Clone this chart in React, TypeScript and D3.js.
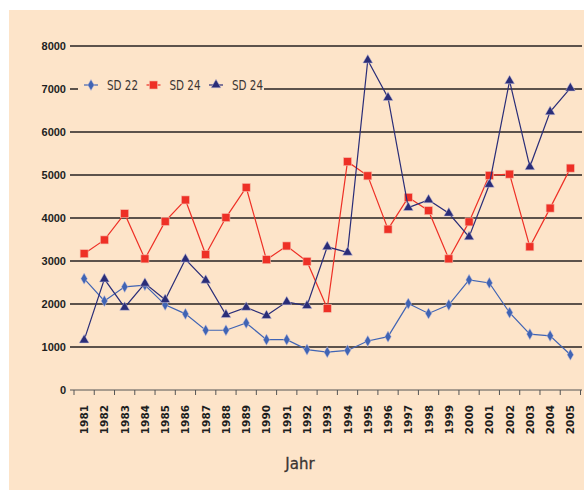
import React from 'react';
import * as d3 from 'd3';

const years = ['1981', '1982', '1983', '1984', '1985', '1986', '1987', '1988', '1989', '1990', '1991', '1992', '1993', '1994', '1995', '1996', '1997', '1998', '1999', '2000', '2001', '2002', '2003', '2004', '2005'];

const sd22 = [2590, 2070, 2400, 2440, 1980, 1770, 1390, 1390, 1560, 1170, 1170, 940, 880, 920, 1140, 1240, 2010, 1780, 1980, 2560, 2490, 1800, 1300, 1260, 820];
const sd24red = [3170, 3490, 4100, 3050, 3920, 4420, 3150, 4010, 4710, 3030, 3350, 2990, 1900, 5310, 4980, 3740, 4480, 4170, 3050, 3910, 4990, 5020, 3330, 4230, 5160];
const sd24navy = [1160, 2580, 1920, 2480, 2100, 3040, 2550, 1750, 1920, 1730, 2050, 1960, 3330, 3200, 7670, 6800, 4240, 4420, 4110, 3560, 4780, 7190, 5190, 6470, 7020];

const yTicks = [0, 1000, 2000, 3000, 4000, 5000, 6000, 7000, 8000];

const seriesNames = ['SD 22', 'SD 24', 'SD 24'];
const colors = ['#4064b4', '#ee3026', '#2a2d78'];
const markerTypes = ['diamond', 'square', 'triangle'];

const W = 584;
const H = 491;

function Marker({ type, x, y, color }: { type: string; x: number; y: number; color: string }) {
  if (type === 'square') {
    return <rect x={x - 4} y={y - 4} width={8} height={8} fill={color} stroke="#f6b8a6" strokeWidth={0.6} />;
  }
  const sym = type === 'diamond' ? d3.symbolDiamond : d3.symbolTriangle;
  const size = type === 'diamond' ? 36 : 42;
  const path = d3.symbol().type(sym).size(size)();
  return <path d={path || ''} transform={`translate(${x},${y})`} fill={color} stroke="#c9c3dc" strokeWidth={0.5} />;
}

export default function App() {
  const x = d3.scaleBand().domain(years).range([74, 580.5]).padding(0);
  const y = d3.scaleLinear().domain([0, 8000]).range([390, 46]);
  const cx = (yr: string) => (x(yr) as number) + x.bandwidth() / 2;

  const line = d3
    .line<number>()
    .x((_, i) => cx(years[i]))
    .y(d => y(d));

  const allSeries = [sd22, sd24red, sd24navy];

  const tickXs = years.map(yr => x(yr) as number).concat([580.5]);

  return (
    <svg width={W} height={H} style={{ position: 'absolute', left: 0, top: 0 }}>
      <rect x={0} y={0} width={W} height={H} fill="#ffffff" />
      <rect x={9} y={10} width={W - 9} height={480} fill="#fde4c9" />

      {/* gridlines */}
      {yTicks
        .filter(t => t > 0)
        .map(t => (
          <line key={t} x1={70} x2={582} y1={y(t)} y2={y(t)} stroke="#262220" strokeWidth={1.5} />
        ))}

      {/* y tick labels */}
      {yTicks.map(t => (
        <text
          key={t}
          x={66}
          y={y(t)}
          dy="0.36em"
          textAnchor="end"
          fontFamily="Liberation Sans, Arial, sans-serif"
          fontWeight="bold"
          fontSize={11}
          fill="#1e1e1e"
        >
          {t}
        </text>
      ))}

      {/* x axis */}
      <line x1={70} x2={582} y1={390} y2={390} stroke="#555" strokeWidth={1} />
      {tickXs.map((tx, i) => (
        <line key={i} x1={tx} x2={tx} y1={390} y2={395} stroke="#555" strokeWidth={1} />
      ))}
      {years.map(yr => (
        <text
          key={yr}
          transform={`translate(${cx(yr) + 4},405) rotate(-90)`}
          textAnchor="end"
          fontFamily="DejaVu Sans, Verdana, sans-serif"
          fontWeight="bold"
          fontSize={10.5}
          fill="#1e1e1e"
        >
          {yr}
        </text>
      ))}
      <text
        x={300}
        y={469}
        textAnchor="middle"
        fontFamily="DejaVu Sans, sans-serif"
        fontSize={15}
        fill="#3a3533"
        stroke="#3a3533"
        strokeWidth={0.3}
      >
        Jahr
      </text>

      {/* series */}
      {allSeries.map((s, si) => (
        <g key={si}>
          <path d={line(s) || ''} fill="none" stroke={colors[si]} strokeWidth={1.2} />
          {s.map((v, i) => (
            <Marker key={i} type={markerTypes[si]} x={cx(years[i])} y={y(v)} color={colors[si]} />
          ))}
        </g>
      ))}

      {/* legend */}
      <rect x={78} y={77} width={186} height={18} fill="#fde4c9" />
      {seriesNames.map((name, i) => {
        const lx = 84 + i * 62.5;
        return (
          <g key={i}>
            <line x1={lx} x2={lx + 14} y1={85} y2={85} stroke={colors[i]} strokeWidth={1.2} />
            <Marker type={markerTypes[i]} x={lx + 7} y={85} color={colors[i]} />
            <text
              x={lx + 23}
              y={85}
              dy="0.36em"
              fontFamily="DejaVu Sans, sans-serif"
              fontSize={14}
              textLength={31}
              lengthAdjust="spacingAndGlyphs"
              fill="#3a3533"
            >
              {name}
            </text>
          </g>
        );
      })}
    </svg>
  );
}
